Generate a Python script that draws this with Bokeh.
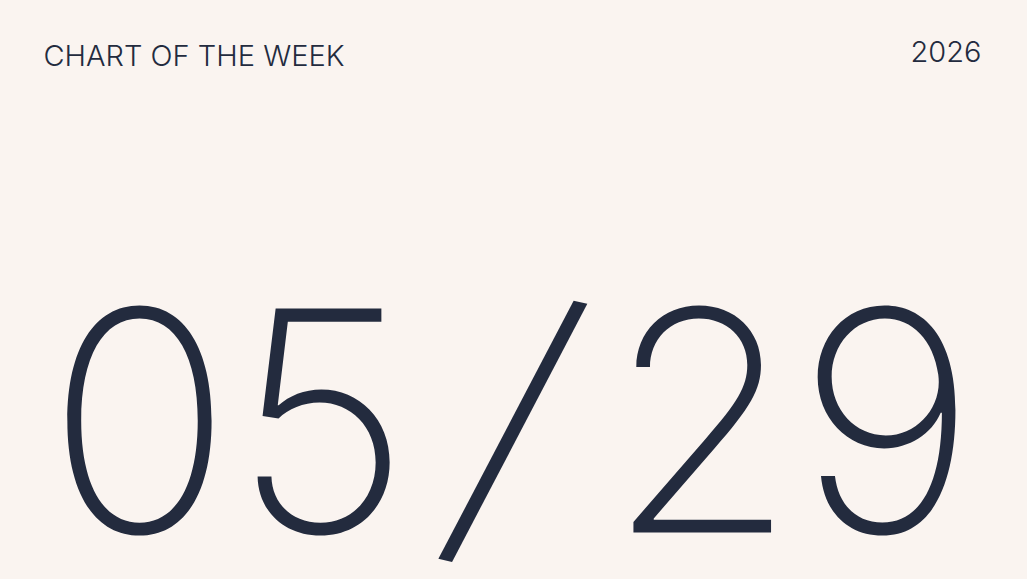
from bokeh.plotting import figure
from bokeh.embed import file_html
from bokeh.resources import INLINE
from bokeh.models import GlobalInlineStyleSheet
from bokeh.core.properties import value

# content
header = ["CHART OF THE WEEK"]
year = ["2026"]
month = ["05"]
separator = ["/"]
day = ["29"]

BG = "#FAF4F0"
INK = "#232B3E"

W, H = 1027, 579
p = figure(width=W, height=H, output_backend="svg", toolbar_location=None,
           x_range=(0, W), y_range=(H, 0), min_border=0)
p.axis.visible = False
p.grid.visible = False
p.outline_line_color = None
p.background_fill_color = BG
p.border_fill_color = BG

p.text(x=[43], y=[55], text=header, text_font=value("Inter Light"), text_font_size="29px",
       text_color=INK, text_baseline="alphabetic", text_align="left")
p.text(x=[981], y=[51], text=year, text_font=value("Inter Light"), text_font_size="29px",
       text_color=INK, text_baseline="alphabetic", text_align="right")

big = dict(text_font=value("Inter ExtraLight"), text_color=INK)
p.text(x=[228], y=[419], text=month, text_baseline="alphabetic", text_align="center",
       text_font_size="308px", **big)
p.text(x=[791], y=[419], text=day, text_baseline="alphabetic", text_align="center",
       text_font_size="308px", **big)
p.text(x=[515], y=[419], text=separator, angle=[-0.22], text_baseline="middle",
       text_align="center", text_font_size="323px", **big)

p.stylesheets = [GlobalInlineStyleSheet(css="body{background:%s;}" % BG)]
open("out.html", "w").write(file_html(p, INLINE))
